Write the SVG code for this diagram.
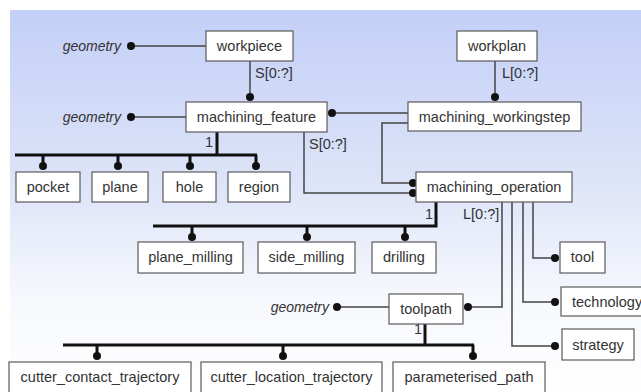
<svg xmlns="http://www.w3.org/2000/svg" width="641" height="392" viewBox="0 0 641 392">
<defs>
<linearGradient id="bg" x1="0" y1="0" x2="0" y2="1">
<stop offset="0" stop-color="#c3cff7"/>
<stop offset="0.45" stop-color="#dde4f8"/>
<stop offset="0.75" stop-color="#f6f8fd"/>
<stop offset="1" stop-color="#ffffff"/>
</linearGradient>
<style>
.box{fill:#ffffff;stroke:#5a5a5a;stroke-width:1.2}
.t{font-family:"Liberation Sans",Arial,sans-serif;font-size:14.5px;fill:#333333;text-anchor:middle}
.lbl{font-family:"Liberation Sans",Arial,sans-serif;font-size:14.5px;fill:#333333}
.geo{font-family:"Liberation Sans",Arial,sans-serif;font-size:14px;fill:#333333;font-style:italic;text-anchor:end}
.thin{fill:none;stroke:#444444;stroke-width:1.5}
.thick{fill:none;stroke:#111111;stroke-width:3}
.dot{fill:#111111}
</style>
</defs>
<rect x="0" y="0" width="641" height="392" fill="#ffffff"/>
<rect x="10" y="10" width="631" height="382" fill="url(#bg)"/>

<g id="connectors">
<path class="thin" d="M131,46 H206"/>
<path class="thin" d="M250,61 V97"/>
<path class="thin" d="M131,117 H186"/>
<path class="thin" d="M495,61 V97"/>
<path class="thin" d="M332,113 H408"/>
<path class="thin" d="M408,123 H382 V183 H413"/>
<path class="thin" d="M304,132 V193 H413"/>
<path class="thin" d="M502,202 V307 H468"/>
<path class="thin" d="M533,202 V258 H555"/>
<path class="thin" d="M523,202 V302 H555"/>
<path class="thin" d="M512,202 V346 H555"/>
<path class="thin" d="M337,307 H389"/>
<path class="thick" d="M217,132 V155 M15,155 H257 M43,155 V166 M118,155 V166 M190,155 V166 M256,155 V166"/>
<path class="thick" d="M436,202 V226 H153 M192,226 V237 M307,226 V237 M405,226 V237"/>
<path class="thick" d="M425,324 V345 M63,345 H474 M97,345 V356 M283,345 V356 M473,345 V356"/>
<g class="dot">
<circle cx="131" cy="46" r="4"/>
<circle cx="250" cy="97" r="4"/>
<circle cx="131" cy="117" r="4"/>
<circle cx="495" cy="97" r="4"/>
<circle cx="332" cy="113" r="4"/>
<circle cx="413" cy="183" r="4"/>
<circle cx="413" cy="193" r="4"/>
<circle cx="468" cy="307" r="4"/>
<circle cx="555" cy="258" r="4"/>
<circle cx="555" cy="302" r="4"/>
<circle cx="555" cy="346" r="4"/>
<circle cx="337" cy="307" r="4"/>
<circle cx="43" cy="166" r="4"/>
<circle cx="118" cy="166" r="4"/>
<circle cx="190" cy="166" r="4"/>
<circle cx="256" cy="166" r="4"/>
<circle cx="192" cy="237" r="4"/>
<circle cx="307" cy="237" r="4"/>
<circle cx="405" cy="237" r="4"/>
<circle cx="97" cy="356" r="4"/>
<circle cx="283" cy="356" r="4"/>
<circle cx="473" cy="356" r="4"/>
</g>
<text class="geo" x="121" y="51">geometry</text>
<text class="geo" x="121" y="122">geometry</text>
<text class="geo" x="329" y="312">geometry</text>
<text class="lbl" x="255" y="78">S[0:?]</text>
<text class="lbl" x="502" y="78">L[0:?]</text>
<text class="lbl" x="309" y="149">S[0:?]</text>
<text class="lbl" x="463" y="219">L[0:?]</text>
<text class="lbl" x="213" y="147" text-anchor="end">1</text>
<text class="lbl" x="433" y="219" text-anchor="end">1</text>
<text class="lbl" x="422" y="334" text-anchor="end">1</text>
</g>

<g id="workpiece"><rect class="box" x="206" y="31" width="87" height="30"/><text class="t" x="249.5" y="51">workpiece</text></g>
<g id="workplan"><rect class="box" x="457" y="31" width="80" height="30"/><text class="t" x="497" y="51">workplan</text></g>
<g id="machining_feature"><rect class="box" x="186" y="102" width="141" height="30"/><text class="t" x="256.5" y="122">machining_feature</text></g>
<g id="machining_workingstep"><rect class="box" x="408" y="102" width="173" height="29"/><text class="t" x="494.5" y="122">machining_workingstep</text></g>
<g id="pocket"><rect class="box" x="16" y="172" width="64" height="30"/><text class="t" x="48" y="192">pocket</text></g>
<g id="plane"><rect class="box" x="92" y="172" width="56" height="30"/><text class="t" x="120" y="192">plane</text></g>
<g id="hole"><rect class="box" x="163" y="172" width="53" height="30"/><text class="t" x="189.5" y="192">hole</text></g>
<g id="region"><rect class="box" x="228" y="172" width="62" height="30"/><text class="t" x="259" y="192">region</text></g>
<g id="machining_operation"><rect class="box" x="416" y="172" width="156" height="30"/><text class="t" x="494" y="192">machining_operation</text></g>
<g id="plane_milling"><rect class="box" x="138" y="242" width="105" height="31"/><text class="t" x="190.5" y="262">plane_milling</text></g>
<g id="side_milling"><rect class="box" x="258" y="242" width="97" height="31"/><text class="t" x="306.5" y="262">side_milling</text></g>
<g id="drilling"><rect class="box" x="372" y="242" width="64" height="31"/><text class="t" x="404" y="262">drilling</text></g>
<g id="tool"><rect class="box" x="560" y="242" width="45" height="31"/><text class="t" x="582.5" y="262">tool</text></g>
<g id="technology"><rect class="box" x="561" y="287" width="86" height="29"/><text class="lbl" x="572" y="307">technology</text></g>
<g id="strategy"><rect class="box" x="562" y="329" width="72" height="31"/><text class="t" x="598" y="350">strategy</text></g>
<g id="toolpath"><rect class="box" x="389" y="294" width="74" height="30"/><text class="t" x="426" y="314">toolpath</text></g>
<g id="cutter_contact_trajectory"><rect class="box" x="9" y="362" width="182" height="34"/><text class="t" x="100" y="382">cutter_contact_trajectory</text></g>
<g id="cutter_location_trajectory"><rect class="box" x="201" y="362" width="181" height="34"/><text class="t" x="291.5" y="382">cutter_location_trajectory</text></g>
<g id="parameterised_path"><rect class="box" x="393" y="362" width="152" height="34"/><text class="t" x="469" y="382">parameterised_path</text></g>
</svg>
